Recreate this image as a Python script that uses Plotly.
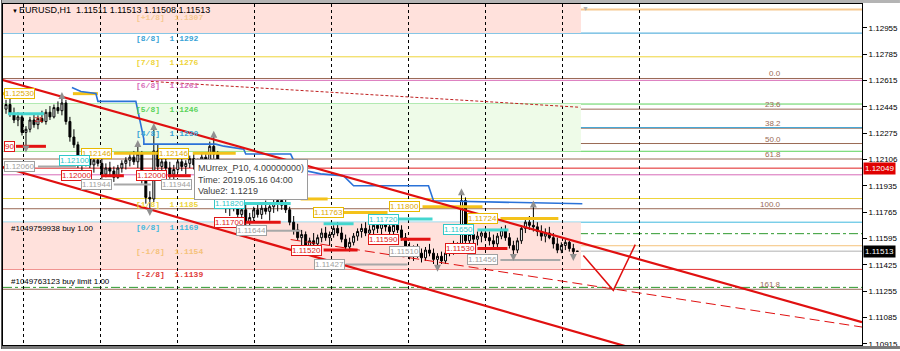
import plotly.graph_objects as go

# ---------------- data ----------------
bar_index = list(range(144))
opens = [1.1243,1.1246,1.1240,1.1236,1.1238,1.1228,1.1230,1.1236,1.1233,1.1237,
 1.1235,1.1241,1.1238,1.1244,1.1242,1.1247,1.1235,1.1225,1.1220,1.1208,
 1.1211,1.1214,1.1207,1.1210,1.1208,1.1201,1.1205,1.1203,1.1199,1.1205,
 1.1208,1.1210,1.1212,1.1209,1.1214,1.1197,1.1186,1.1185,1.1216,1.1206,
 1.1209,1.1205,1.1201,1.1204,1.1209,1.1206,1.1208,1.1211,1.1207,1.1210,
 1.1212,1.1209,1.1219,1.1214,1.1199,1.1187,1.1180,1.1183,1.1179,1.1175,
 1.1178,1.1170,1.1173,1.1178,1.1175,1.1179,1.1177,1.1180,1.1182,1.1184,
 1.1181,1.1178,1.1170,1.1165,1.1160,1.1162,1.1155,1.1158,1.1156,1.1160,
 1.1163,1.1160,1.1162,1.1166,1.1163,1.1159,1.1154,1.1157,1.1161,1.1164,
 1.1166,1.1163,1.1165,1.1168,1.1166,1.1169,1.1167,1.1164,1.1168,1.1165,
 1.1160,1.1153,1.1149,1.1152,1.1150,1.1147,1.1152,1.1150,1.1146,1.1148,
 1.1145,1.1150,1.1154,1.1151,1.1155,1.1184,1.1158,1.1162,1.1159,1.1161,
 1.1163,1.1160,1.1158,1.1156,1.1161,1.1165,1.1160,1.1155,1.1152,1.1158,
 1.1166,1.1170,1.1168,1.1167,1.1164,1.1161,1.1163,1.1160,1.1156,1.1152,
 1.1155,1.1157,1.1153,1.11511]
highs = [1.1249,1.1250,1.1244,1.1241,1.1240,1.1232,1.1238,1.1240,1.1239,1.1242,
 1.1243,1.1245,1.1246,1.1248,1.1250,1.1249,1.1238,1.1230,1.1222,1.1214,
 1.1216,1.1217,1.1213,1.1215,1.1211,1.1208,1.1209,1.1206,1.1207,1.1210,
 1.1212,1.1214,1.1216,1.1219,1.1216,1.1199,1.1190,1.1230,1.1220,1.1212,
 1.1213,1.1209,1.1207,1.1211,1.1212,1.1210,1.1213,1.1214,1.1211,1.1215,
 1.1214,1.1222,1.1225,1.1216,1.1201,1.1190,1.1186,1.1187,1.1184,1.1181,
 1.1183,1.1176,1.1180,1.1182,1.1181,1.1184,1.1182,1.1185,1.1186,1.1189,
 1.1187,1.1180,1.1174,1.1169,1.1165,1.1164,1.1160,1.1163,1.1162,1.1166,
 1.1167,1.1164,1.1168,1.1170,1.1167,1.1162,1.1160,1.1163,1.1166,1.1169,
 1.1170,1.1168,1.1171,1.1172,1.1171,1.1173,1.1171,1.1170,1.1172,1.1168,
 1.1163,1.1157,1.1155,1.1156,1.1153,1.1154,1.1156,1.1153,1.1150,1.1151,
 1.1152,1.1156,1.1158,1.1157,1.1188,1.1186,1.1165,1.1166,1.1164,1.1165,
 1.1166,1.1164,1.1162,1.1163,1.1167,1.1168,1.1163,1.1158,1.1160,1.1168,
 1.1173,1.1174,1.1180,1.1170,1.1168,1.1166,1.1167,1.1163,1.1160,1.1157,
 1.1159,1.1158,1.1156,1.11513]
lows = [1.1240,1.1238,1.1234,1.1232,1.1226,1.1219,1.1228,1.1231,1.1230,1.1234,
 1.1233,1.1236,1.1237,1.1240,1.1239,1.1233,1.1222,1.1218,1.1205,1.1203,
 1.1206,1.1205,1.1202,1.1206,1.1198,1.1199,1.1200,1.1196,1.1198,1.1202,
 1.1204,1.1206,1.1207,1.1205,1.1195,1.1182,1.1178,1.1183,1.1203,1.1200,
 1.1203,1.1198,1.1197,1.1202,1.1203,1.1201,1.1205,1.1204,1.1203,1.1207,
 1.1206,1.1208,1.1211,1.1196,1.1184,1.1176,1.1174,1.1177,1.1172,1.1171,
 1.1167,1.1165,1.1170,1.1173,1.1172,1.1175,1.1171,1.1176,1.1177,1.1178,
 1.1176,1.1168,1.1162,1.1158,1.1155,1.1152,1.1150,1.1153,1.1154,1.1157,
 1.1158,1.1155,1.1160,1.1161,1.1157,1.1152,1.1151,1.1155,1.1158,1.1160,
 1.1161,1.1160,1.1162,1.1163,1.1162,1.1164,1.1161,1.1162,1.1163,1.1158,
 1.1150,1.1146,1.1145,1.1147,1.1144,1.1145,1.1148,1.1143,1.1142,1.1143,
 1.1143,1.1148,1.1149,1.1150,1.1153,1.1154,1.1155,1.1156,1.1155,1.1157,
 1.1158,1.1155,1.1153,1.1154,1.1159,1.1158,1.1153,1.1149,1.1150,1.1156,
 1.1163,1.1165,1.1164,1.1161,1.1158,1.1157,1.1159,1.1153,1.1150,1.1150,
 1.1152,1.1151,1.1149,1.11508]
closes = [1.1246,1.1240,1.1236,1.1238,1.1228,1.1230,1.1236,1.1233,1.1237,1.1235,
 1.1241,1.1238,1.1244,1.1242,1.1247,1.1235,1.1225,1.1220,1.1208,1.1211,
 1.1214,1.1207,1.1210,1.1208,1.1201,1.1205,1.1203,1.1199,1.1205,1.1208,
 1.1210,1.1212,1.1209,1.1214,1.1197,1.1186,1.1185,1.1216,1.1206,1.1209,
 1.1205,1.1201,1.1204,1.1209,1.1206,1.1208,1.1211,1.1207,1.1210,1.1212,
 1.1209,1.1219,1.1214,1.1199,1.1187,1.1180,1.1183,1.1179,1.1175,1.1178,
 1.1170,1.1173,1.1178,1.1175,1.1179,1.1177,1.1180,1.1182,1.1184,1.1181,
 1.1178,1.1170,1.1165,1.1160,1.1162,1.1155,1.1158,1.1156,1.1160,1.1163,
 1.1160,1.1162,1.1166,1.1163,1.1159,1.1154,1.1157,1.1161,1.1164,1.1166,
 1.1163,1.1165,1.1168,1.1166,1.1169,1.1167,1.1164,1.1168,1.1165,1.1160,
 1.1153,1.1149,1.1152,1.1150,1.1147,1.1152,1.1150,1.1146,1.1148,1.1145,
 1.1150,1.1154,1.1151,1.1155,1.1184,1.1158,1.1162,1.1159,1.1161,1.1163,
 1.1160,1.1158,1.1156,1.1161,1.1165,1.1160,1.1155,1.1152,1.1158,1.1166,
 1.1170,1.1168,1.1167,1.1164,1.1161,1.1163,1.1160,1.1156,1.1152,1.1155,
 1.1157,1.1153,1.1151,1.11513]

# Murrey math levels
murrey_names = ["[+1/8]","[8/8]","[7/8]","[6/8]","[5/8]","[4/8]","[3/8]","[2/8]","[1/8]","[0/8]","[-1/8]","[-2/8]"]
murrey_prices = [1.13074,1.12921,1.12768,1.12616,1.12463,1.12311,1.12158,1.12006,1.11853,1.11700,1.11548,1.11395]
murrey_text = ["1.1307","1.1292","1.1276","1.1261","1.1246","1.1230","1.1215","1.1200","1.1185","1.1169","1.1154","1.1139"]
murrey_colors = ["#f6c88e","#3aa3d6","#eed43a","#d86cb8","#5ad35a","#3aa3d6","#5ad35a","#d86cb8","#eed43a","#3fb8de","#f5c27a","#e03838"]
murrey_show_label = [True,True,True,True,True,True,False,False,True,True,True,True]

# Fibonacci levels
fib_names = ["0.0","23.6","38.2","50.0","61.8","100.0","161.8"]
fib_prices = [1.12628,1.12430,1.12307,1.12208,1.12108,1.11787,1.11267]

# other horizontal levels
alert_price = 1.12049
bid_price = 1.11513
order_prices = [1.11626, 1.11279]
order_texts = ["#1049759938 buy 1.00", "#1049763123 buy limit 1.00"]

# y-axis ticks
ytick_vals = [1.12955,1.12785,1.12615,1.12445,1.12275,1.12105,1.11935,1.11765,1.11595,1.11425,1.11255,1.11085,1.10915]
ytick_text = ["1.12955","1.12785","1.12615","1.12445","1.12275","1.12106","1.11935","1.11765","1.11595","1.11425","1.11255","1.11085","1.10915"]
grid_bars = [4.5, 23.75, 43, 62.25, 81.5, 100.75, 120, 139.25, 158.5]

# trend lines (bar index, price)
chan_up_x, chan_up_y = [-1.25, 214.25], [1.12621, 1.11055]
chan_lo_x, chan_lo_y = [-1.25, 214.25], [1.12060, 1.10460]
dash_x, dash_y = [71.25, 214.25], [1.11588, 1.11023]
dot_x, dot_y = [36.25, 143.75], [1.12609, 1.12442]
vee_x, vee_y = [144.5, 152, 157.5], [1.11485, 1.11260, 1.11555]

# MUrrex step line
blue_x = [16.5,18.75,22.5,23,32.5,34.5,34.5,52.5,54.5,59.5,60,71.25,73,78.75,84.5,87,105.75,107,144.25]
blue_y = [1.12570,1.12544,1.12531,1.12480,1.12480,1.12236,1.12204,1.12204,1.12191,1.12172,1.12140,1.12140,1.12044,1.12012,1.11999,1.11935,1.11935,1.11838,1.11819]

# level segments: (start bar, end bar, price)
yellow_segs = [(-1.25,6.25,1.12530),(16.75,23,1.12530),(27,38,1.12146),(46.75,57.5,1.12146),
               (73.75,80.5,1.11850),(84.5,95.5,1.11763),(104.25,119.25,1.11800),(123.75,138.25,1.11724)]
cyan_segs = [(0.5,9.5,1.12400),(58,71.25,1.11820),(79.5,87,1.11690),(98.25,106.75,1.11720),(118,125.75,1.11650)]
red_segs = [(2.5,10,1.12190),(23.75,29.5,1.12000),(40.5,46.25,1.12000),(60,68.75,1.11700),
            (79.5,88,1.11520),(98.75,106.25,1.11590),(118,125.5,1.11530)]
grey_segs = [(8,17.5,1.12060),(27,36.25,1.11944),(65,73.75,1.11644),(85,100.5,1.11427),(123.75,138.75,1.11456)]

# boxed price labels: (text, start bar, price, colour)
price_labels = [
    ("1.12530",-0.5,1.12530,"#e8b800"),("1.12146",18.75,1.12146,"#e8b800"),("1.12146",38,1.12146,"#e8b800"),
    ("1.11763",76.75,1.11763,"#e8b800"),("1.11800",95.75,1.11800,"#e8b800"),("1.11724",115.5,1.11724,"#e8b800"),
    ("1.12100",13.25,1.12100,"#30c8c8"),("1.11820",52,1.11820,"#30c8c8"),("1.11720",90.5,1.11720,"#30c8c8"),
    ("1.11650",109.5,1.11650,"#30c8c8"),
    ("90",-0.5,1.12190,"#e01818"),("1.12000",13.75,1.12000,"#e01818"),("1.12000",32.5,1.12000,"#e01818"),
    ("1.11700",52,1.11700,"#e01818"),("1.11520",71.25,1.11520,"#e01818"),("1.11590",90.5,1.11590,"#e01818"),
    ("1.11530",110,1.11530,"#e01818"),
    ("1.12060",-0.5,1.12060,"#a0a0a0"),("1.11944",18.75,1.11944,"#a0a0a0"),("1.11944",38.75,1.11944,"#a0a0a0"),
    ("1.11644",57.5,1.11644,"#a0a0a0"),("1.11427",77,1.11427,"#a0a0a0"),("1.11510",95.75,1.11510,"#a0a0a0"),
    ("1.11456",115.5,1.11456,"#a0a0a0"),
]

fractal_up_x = [14, 33, 37, 52, 69, 114, 132]
fractal_up_y = [1.1254, 1.1223, 1.1234, 1.1229, 1.1193, 1.1192, 1.1184]
fractal_dn_x = [5, 36, 60, 75, 108, 127, 142]
fractal_dn_y = [1.1215, 1.1174, 1.1163, 1.1148, 1.1138, 1.1145, 1.1145]

# ---------------- figure ----------------
W, H = 900, 351
ML, MR, MT, MB = 2, 38, 4, 4
XR = [-0.75, 214.25]
YR = [1.10907, 1.13109]

def pxx(px):
    return (px - ML) / (W - ML - MR)

def pxy(py):
    return 1 - (py - MT) / (H - MT - MB)

fig = go.Figure()
shapes = []
ann = []

# background zones
zone_x1 = 143.9
shapes.append(dict(type="rect", xref="x", yref="y", x0=XR[0], x1=zone_x1, y0=murrey_prices[1], y1=YR[1],
                   fillcolor="#ffe1dc", line=dict(width=0), layer="below"))
shapes.append(dict(type="rect", xref="x", yref="y", x0=XR[0], x1=zone_x1, y0=murrey_prices[6], y1=murrey_prices[4],
                   fillcolor="#eefbe8", line=dict(width=0), layer="below"))
shapes.append(dict(type="rect", xref="x", yref="y", x0=XR[0], x1=zone_x1, y0=murrey_prices[11], y1=murrey_prices[9],
                   fillcolor="#ffe1dc", line=dict(width=0), layer="below"))

def hline(price, color, width=1, dash="solid"):
    shapes.append(dict(type="line", xref="paper", yref="y", x0=0, x1=1, y0=price, y1=price,
                       line=dict(color=color, width=width, dash=dash), layer="between"))

for p in fib_prices:
    hline(p, "#9a6a55")
for i, p in enumerate(murrey_prices):
    hline(p, murrey_colors[i], 2 if i == 0 else 1)
hline(alert_price, "#e02020")
hline(bid_price, "#b0b0b0")
for p in order_prices:
    hline(p, "#2f9a2f", 1, "dashdot")

# candles
fig.add_trace(go.Candlestick(
    x=bar_index, open=opens, high=highs, low=lows, close=closes,
    increasing=dict(line=dict(color="black", width=1), fillcolor="white"),
    decreasing=dict(line=dict(color="black", width=1), fillcolor="black"),
    whiskerwidth=0, hoverinfo="skip", showlegend=False))

# level segments
def segs(lst, color, width):
    xs, ys = [], []
    for a, b, p in lst:
        xs += [a, b, None]
        ys += [p, p, None]
    fig.add_trace(go.Scatter(x=xs, y=ys, mode="lines", line=dict(color=color, width=width),
                             hoverinfo="skip", showlegend=False))

segs(grey_segs, "#a8a8a8", 2)
segs(yellow_segs, "#f4c21a", 3)
segs(cyan_segs, "#44d6cf", 3)
segs(red_segs, "#e31212", 3)

# MUrrex line
fig.add_trace(go.Scatter(x=blue_x, y=blue_y, mode="lines", line=dict(color="#2a72d8", width=1.6),
                         hoverinfo="skip", showlegend=False))

# trend lines
fig.add_trace(go.Scatter(x=chan_up_x, y=chan_up_y, mode="lines", line=dict(color="#e01010", width=2.2),
                         hoverinfo="skip", showlegend=False))
fig.add_trace(go.Scatter(x=chan_lo_x, y=chan_lo_y, mode="lines", line=dict(color="#e01010", width=2.2),
                         hoverinfo="skip", showlegend=False))
fig.add_trace(go.Scatter(x=dash_x, y=dash_y, mode="lines", line=dict(color="#e01010", width=1, dash="10px,5px"),
                         hoverinfo="skip", showlegend=False))
fig.add_trace(go.Scatter(x=dot_x, y=dot_y, mode="lines", line=dict(color="#c02020", width=1, dash="3px,2px"),
                         hoverinfo="skip", showlegend=False))
fig.add_trace(go.Scatter(x=vee_x, y=vee_y, mode="lines", line=dict(color="#e01010", width=1.5),
                         hoverinfo="skip", showlegend=False))

# fractals
fig.add_trace(go.Scatter(x=fractal_up_x, y=fractal_up_y, mode="markers",
                         marker=dict(symbol="arrow-up", size=7, color="#909090"),
                         hoverinfo="skip", showlegend=False))
fig.add_trace(go.Scatter(x=fractal_dn_x, y=fractal_dn_y, mode="markers",
                         marker=dict(symbol="arrow-down", size=7, color="#909090"),
                         hoverinfo="skip", showlegend=False))

# ---------------- texts ----------------
SANS = "Liberation Sans, Arial, sans-serif"
MONO = "Liberation Mono, Courier New, monospace"

for i, p in enumerate(murrey_prices):
    if not murrey_show_label[i]:
        continue
    c = murrey_colors[i]
    txt = f"{murrey_names[i]}  {murrey_text[i]}"
    ann.append(dict(x=32, y=p, xref="x", yref="y", text=f"<b>{txt}</b>", showarrow=False,
                    xanchor="left", yanchor="top", yshift=(-2 if i == 0 else 1),
                    font=dict(family=MONO, size=8, color=c)))

for n, p in zip(fib_names, fib_prices):
    ann.append(dict(x=194.5, y=p, xref="x", yref="y", text=n, showarrow=False,
                    xanchor="right", yanchor="bottom", yshift=-2,
                    font=dict(family=SANS, size=8, color="#9a6a55")))

for t, p in zip(order_texts, order_prices):
    ann.append(dict(x=0.75, y=p, xref="x", yref="y", text=t, showarrow=False,
                    xanchor="left", yanchor="bottom", yshift=-1,
                    font=dict(family=SANS, size=8, color="black")))

for t, bx, p, c in price_labels:
    ann.append(dict(x=bx, y=p, xref="x", yref="y", text=t, showarrow=False,
                    xanchor="left", yanchor="middle", bgcolor="white", bordercolor=c,
                    borderwidth=1, borderpad=0,
                    font=dict(family=SANS, size=8, color=c if c != "#e8b800" else "#e0a800")))

ann.append(dict(x=6.5, y=1.1236, xref="x", yref="y", text="21", showarrow=False,
                xanchor="left", yanchor="middle", font=dict(family=SANS, size=8, color="#e01818")))

# right-axis price boxes
ann.append(dict(x=1, y=alert_price, xref="paper", yref="y", text="1.12049", showarrow=False,
                xanchor="left", yanchor="middle", xshift=1, bgcolor="#e00000", borderpad=1,
                font=dict(family=SANS, size=8, color="white")))
ann.append(dict(x=1, y=bid_price, xref="paper", yref="y", text="1.11513", showarrow=False,
                xanchor="left", yanchor="middle", xshift=1, bgcolor="black", borderpad=1,
                font=dict(family=SANS, size=8, color="white")))

# header
ann.append(dict(x=pxx(9), y=pxy(6), xref="paper", yref="paper", text="▼", showarrow=False,
                xanchor="left", yanchor="top", font=dict(family=SANS, size=6, color="black")))
ann.append(dict(x=pxx(16), y=pxy(3), xref="paper", yref="paper",
                text="EURUSD,H1  1.11511 1.11513 1.11508 1.11513", showarrow=False,
                xanchor="left", yanchor="top", font=dict(family=SANS, size=9, color="black")))
ann.append(dict(x=pxx(585), y=pxy(3), xref="paper", yref="paper", text="▼", showarrow=False,
                xanchor="center", yanchor="top", font=dict(family=SANS, size=7, color="#b0b0b0")))

# tooltip
ann.append(dict(x=pxx(193), y=pxy(160), xref="paper", yref="paper",
                text="MUrrex_P10, 4.00000000)<br>Time: 2019.05.16 04:00<br>Value2: 1.1219",
                showarrow=False, xanchor="left", yanchor="top", align="left",
                bgcolor="white", bordercolor="#9a9a9a", borderwidth=1, borderpad=3,
                font=dict(family=SANS, size=9, color="#404040")))

# window frame
shapes.append(dict(type="rect", xref="paper", yref="paper", x0=pxx(0), x1=pxx(900), y0=pxy(0), y1=pxy(3),
                   fillcolor="#b4b4b4", line=dict(width=0), layer="above"))
shapes.append(dict(type="rect", xref="paper", yref="paper", x0=pxx(0), x1=pxx(900), y0=pxy(351), y1=pxy(348),
                   fillcolor="#7a7a7a", line=dict(width=0), layer="above"))
shapes.append(dict(type="rect", xref="paper", yref="paper", x0=pxx(0), x1=pxx(1), y0=pxy(351), y1=pxy(0),
                   fillcolor="#555555", line=dict(width=0), layer="above"))

fig.update_layout(
    width=W, height=H, margin=dict(l=ML, r=MR, t=MT, b=MB),
    paper_bgcolor="white", plot_bgcolor="white",
    showlegend=False, shapes=shapes, annotations=ann, hovermode=False,
    xaxis=dict(range=XR, showticklabels=False, tickvals=grid_bars, ticks="",
               showgrid=True, gridcolor="#000000", griddash="dot", gridwidth=1,
               zeroline=False, showline=True, linecolor="black", mirror=True,
               rangeslider=dict(visible=False), fixedrange=True),
    yaxis=dict(range=YR, side="right", tickvals=ytick_vals, ticktext=ytick_text,
               ticks="outside", ticklen=4, tickcolor="black", showgrid=False,
               zeroline=False, showline=True, linecolor="black", mirror=True,
               tickfont=dict(family=SANS, size=8, color="black"), fixedrange=True),
)

fig.write_html("out.html")
